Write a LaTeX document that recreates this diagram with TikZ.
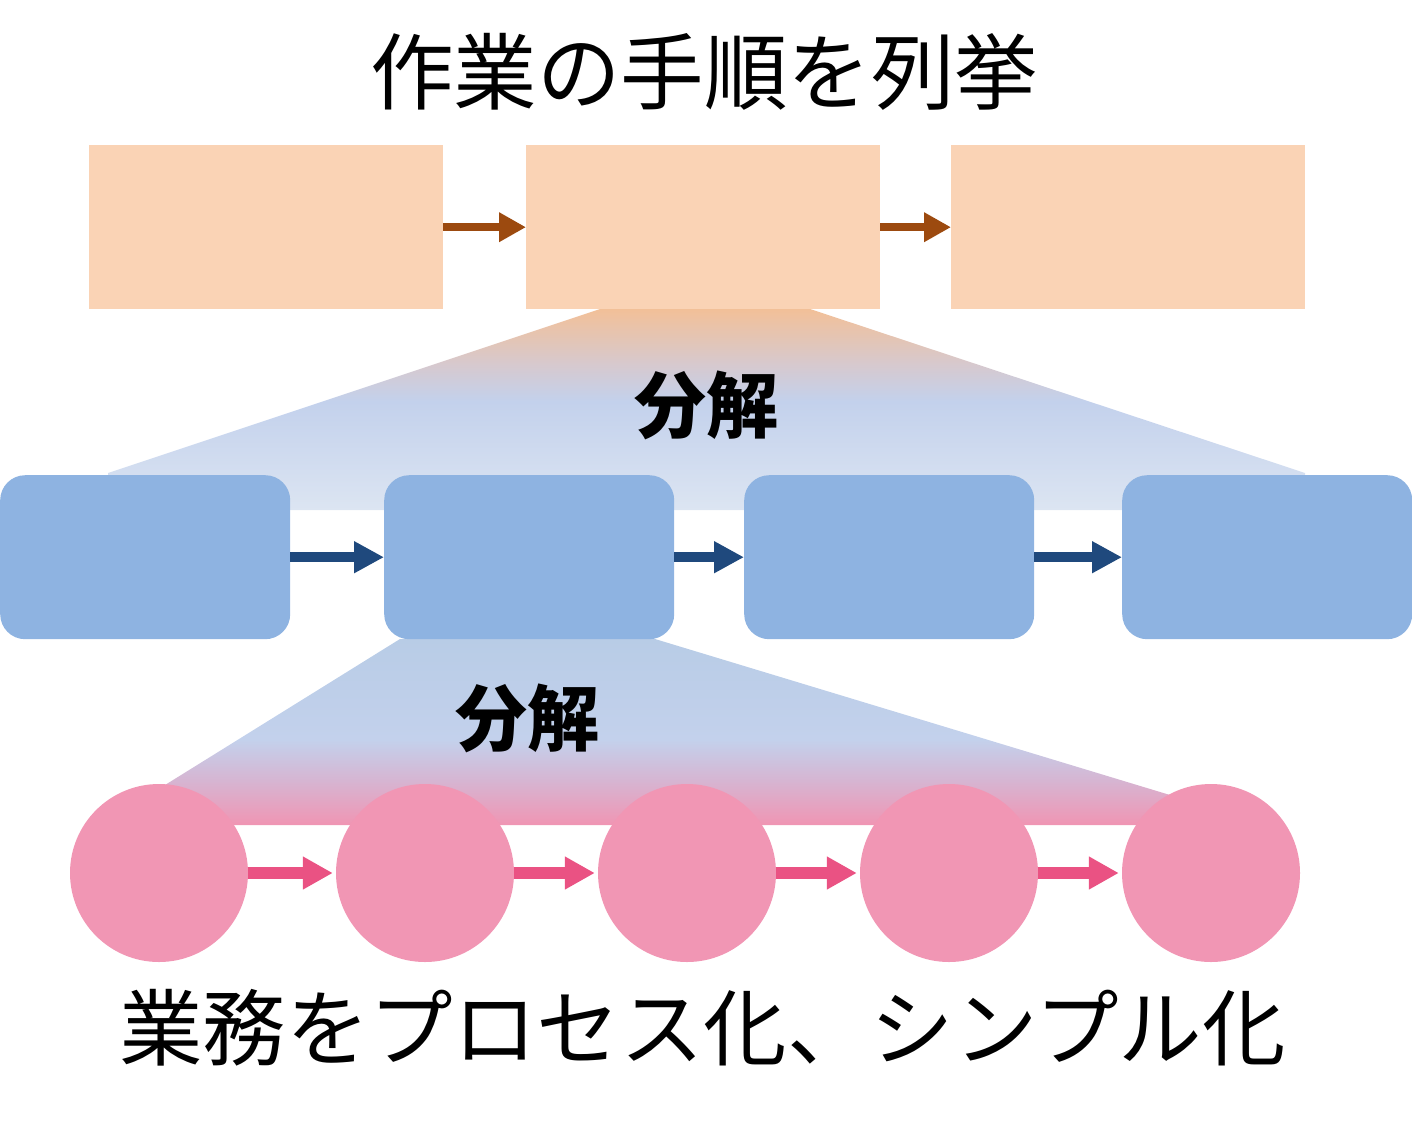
\documentclass[tikz,border=0pt]{standalone}
\usepackage{fontspec}
\newfontfamily\cjk{Noto Sans CJK JP}
\usetikzlibrary{arrows.meta}
\definecolor{peach}{HTML}{FAD3B5}
\definecolor{brownarr}{HTML}{9C4A0F}
\definecolor{bluebox}{HTML}{8EB3E1}
\definecolor{bluearr}{HTML}{1F497D}
\definecolor{pinkc}{HTML}{F196B4}
\definecolor{pinkarr}{HTML}{EA5283}
\definecolor{gorange}{HTML}{F2C098}
\definecolor{ggray}{HTML}{D6C9CF}
\definecolor{gblue}{HTML}{C3D1EC}
\definecolor{gblue2}{HTML}{DCE5F2}
\definecolor{gblue3}{HTML}{B8CCE6}
\definecolor{gmauve}{HTML}{D6B5D2}
\definecolor{gpink}{HTML}{F095B3}
\pgfdeclareverticalshading{decompA}{100bp}{color(0bp)=(gblue2); color(25bp)=(gblue2); color(52bp)=(gblue); color(61bp)=(ggray); color(75bp)=(gorange); color(100bp)=(gorange)}
\pgfdeclareverticalshading{decompB}{100bp}{color(0bp)=(gpink); color(25bp)=(gpink); color(37bp)=(gmauve); color(48bp)=(gblue); color(75bp)=(gblue3); color(100bp)=(gblue3)}
\tikzset{
  stepbox/.style={fill=peach, draw=none, minimum width=354pt, minimum height=164pt, inner sep=0pt, anchor=north west},
  subbox/.style={fill=bluebox, draw=none, rounded corners=25pt, minimum width=290pt, minimum height=164pt, inner sep=0pt, anchor=north west},
  taskcirc/.style={circle, fill=pinkc, draw=none, minimum size=178pt, inner sep=0pt},
  brownflow/.style={draw=brownarr, line width=8pt, -{Triangle[length=27pt,width=28pt]}},
  blueflow/.style={draw=bluearr, line width=10pt, -{Triangle[length=30pt,width=30pt]}},
  pinkflow/.style={draw=pinkarr, line width=12pt, -{Triangle[length=30pt,width=31pt]}, shorten >=3pt},
  bigtext/.style={font=\cjk\fontsize{83.5}{90}\selectfont, inner sep=0pt, anchor=base},
  decomp/.style={font=\cjk\bfseries\fontsize{72}{80}\selectfont, inner sep=0pt, anchor=base},
}
\begin{document}
\begin{tikzpicture}[x=1pt, y=-1pt]
\useasboundingbox (0,0) rectangle (1412,1129);
% gradient trapezoids
\shade[shading=decompA]
  (600,309) -- (810,309) -- (1305,473) -- (1305,510) -- (108,510) -- (108,473) -- cycle;
\shade[shading=decompB]
  (400,639) -- (655,639) -- (1170,795) -- (1170,825) -- (165,825) -- (165,785) -- cycle;
% title
\node[bigtext] (title) at (704,104) {作業の手順を列挙};
% top row
\node[stepbox] (s1) at (89,145) {};
\node[stepbox] (s2) at (526,145) {};
\node[stepbox] (s3) at (951,145) {};
\draw[brownflow] (s1.east) -- (s2.west);
\draw[brownflow] (s2.east) -- (s3.west);
% decomposition label 1
\node[decomp] (d1) at (706,432) {分解};
% middle row
\node[subbox] (b1) at (0,475) {};
\node[subbox] (b2) at (384,475) {};
\node[subbox] (b3) at (744,475) {};
\node[subbox] (b4) at (1122,475) {};
\draw[blueflow] (b1.east) -- (b2.west);
\draw[blueflow] (b2.east) -- (b3.west);
\draw[blueflow] (b3.east) -- (b4.west);
% decomposition label 2
\node[decomp] (d2) at (527,745) {分解};
% bottom row
\node[taskcirc] (c1) at (159,873) {};
\node[taskcirc] (c2) at (425,873) {};
\node[taskcirc] (c3) at (687,873) {};
\node[taskcirc] (c4) at (949,873) {};
\node[taskcirc] (c5) at (1211,873) {};
\draw[pinkflow] (c1.east) -- (c2.west);
\draw[pinkflow] (c2.east) -- (c3.west);
\draw[pinkflow] (c3.east) -- (c4.west);
\draw[pinkflow] (c4.east) -- (c5.west);
% bottom text
\node[bigtext] (caption) at (702.5,1059) {業務をプロセス化、シンプル化};
\end{tikzpicture}
\end{document}
